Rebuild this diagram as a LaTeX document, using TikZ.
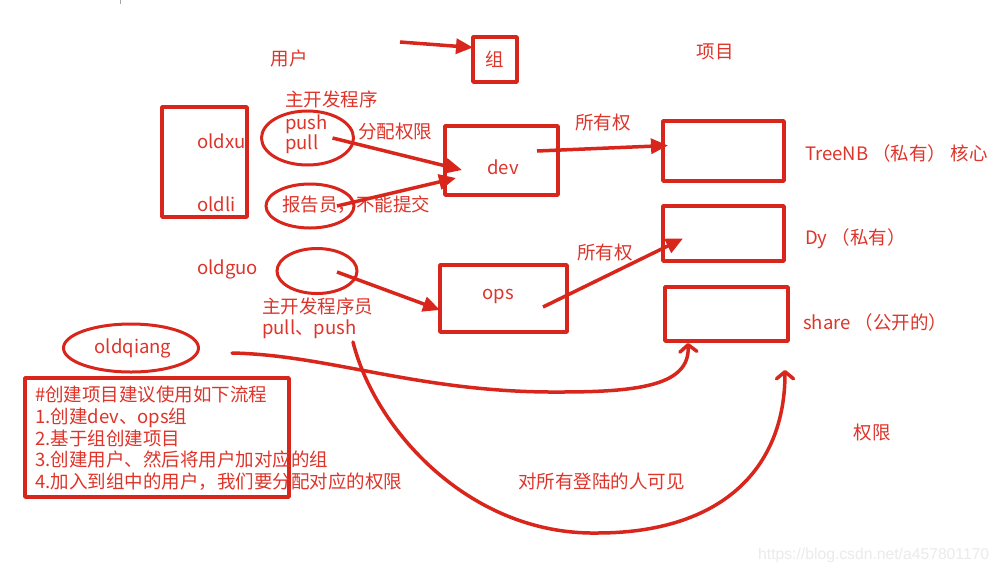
\documentclass[tikz,border=0pt]{standalone}
\usepackage{fontspec}
\setmainfont{Noto Sans CJK SC}
\newfontfamily\wmfont{Liberation Sans}
\usetikzlibrary{arrows.meta,shapes.geometric}
\definecolor{penred}{RGB}{216,38,28}
\definecolor{inkred}{RGB}{222,52,42}
\newcommand\diagfont{\fontsize{18.5}{22}\selectfont}
\begin{document}
\begin{tikzpicture}[x=1pt,y=-1pt,
    rbox/.style={draw=penred,line width=3.5pt,line join=round,inner sep=0pt,outer sep=0pt,text=inkred,font=\diagfont},
    ring/.style={ellipse,draw=penred,line width=3pt,inner sep=0pt,outer sep=0pt},
    txt/.style={text=inkred,inner sep=0pt,text height=15pt,text depth=1.5pt,font=\diagfont},
    arr/.style={draw=penred,line width=3.5pt,-{Triangle[length=17pt,width=15pt]}},
    curvearr/.style={draw=penred,line width=3.5pt,line cap=round,-{Straight Barb[length=7pt,width=17pt,line width=3.5pt,round]}}]
        \fill[white](0,0)rectangle(1001,574);
        \useasboundingbox(0,0)rectangle(1001,574);
        \draw[gray!70,line width=1pt](120,0)--(120,4);
        % top row
        \node[txt](uhead)at(289,59){用户};
        \node[txt](phead)at(715,52){项目};
        \node[rbox,minimum width=44pt,minimum height=45pt](grp)at(495,59.5){组};
        \coordinate(gstart)at(400,42);
        \draw[arr](gstart)--([yshift=12pt]grp.west);
        % users and dev
        \node[rbox,minimum width=85pt,minimum height=110pt](users)at(204.5,162){};
        \node[txt,anchor=west](xu)at(197,142){oldxu};
        \node[txt,anchor=west](li)at(197,205){oldli};
        \node[ring,minimum width=92pt,minimum height=54pt](pp)at(307.5,138){};
        \node[txt,anchor=west](devrole)at(285,100){主开发程序};
        \node[txt,anchor=west](push)at(285,123){push};
        \node[txt,anchor=west](pull)at(285,143){pull};
        \node[txt,anchor=west](assign)at(358,132){分配权限};
        \node[ring,minimum width=88pt,minimum height=44pt](rep)at(310,206){};
        \node[txt,anchor=west](replbl)at(282,205){报告员，不能提交};
        \node[rbox,minimum width=113pt,minimum height=69pt](dev)at(501.5,160.5){};
        \node[txt](devlbl)at(503,168){dev};
        \draw[arr]([xshift=25pt]pp.center)--([shift={(17pt,-9.5pt)}]dev.west);
        \draw[arr]([xshift=27pt]rep.center)--([shift={(11pt,-17.5pt)}]dev.west);
        % projects
        \node[rbox,minimum width=121pt,minimum height=60pt](tree)at(723.5,151){};
        \node[rbox,minimum width=121pt,minimum height=55pt](dy)at(723.5,233.5){};
        \node[rbox,minimum width=123pt,minimum height=54pt](share)at(726.5,314){};
        \node[txt,anchor=west](treelbl)at(805,154){TreeNB （私有） 核心};
        \node[txt,anchor=west](dylbl)at(805,238){Dy （私有）};
        \node[txt,anchor=west](sharelbl)at(803,323){share （公开的）};
        \node[txt](perm)at(872,433){权限};
        \node[txt](own1)at(603,123){所有权};
        \draw[arr]([shift={(35.5pt,9.5pt)}]dev.center)--([shift={(5pt,5.5pt)}]tree.west);
        % ops
        \node[txt,anchor=west](guolbl)at(197,268){oldguo};
        \node[ring,minimum width=80pt,minimum height=45pt](guo)at(317,271){};
        \node[rbox,minimum width=127pt,minimum height=67pt](ops)at(503.5,298.5){};
        \node[txt](opslbl)at(498,293){ops};
        \node[txt,anchor=west](opsrole)at(262,307){主开发程序员};
        \node[txt,anchor=west](opsperm)at(262,328){pull、push};
        \node[txt](own2)at(605,253){所有权};
        \draw[arr]([shift={(20pt,-1pt)}]guo.center)--([yshift=-11.5pt]ops.west);
        \draw[arr]([shift={(39.5pt,-8.5pt)}]ops.center)--([shift={(20pt,-5pt)}]dy.west);
        % public project
        \node[ring,minimum width=135pt,minimum height=48pt](qiang)at(131,348){};
        \node[txt](qianglbl)at(133,347){oldqiang};
        \coordinate(qstart)at(232,353);
        \draw[curvearr](qstart)..controls(330,355)and(420,393)..(560,392)
            ..controls(640,392)and(690,385)..([shift={(23pt,-2pt)}]share.south west);
        \coordinate(vstart)at(353,342);
        \draw[curvearr](vstart)..controls(375,430)and(470,535)..(597,533)
            ..controls(720,533)and(785,470)..([shift={(-3pt,-29pt)}]share.south east);
        \node[txt](visible)at(601.5,482){对所有登陆的人可见};
        % notes
        \node[rbox,minimum width=264pt,minimum height=119pt](notes)at(157,437.5){};
        \foreach \t [count=\i from 0] in {\#创建项目建议使用如下流程,1.创建dev、ops组,2.基于组创建项目,3.创建用户、然后将用户加对应的组,4.加入到组中的用户，我们要分配对应的权限}
            \node[txt,anchor=west](note\i)at(35,395+21.7*\i){\t};
        \node[anchor=west,inner sep=0pt,text=black!8,font=\wmfont\fontsize{15.7}{18}\selectfont](wm)at(758,555){https://blog.csdn.net/a457801170};
    \end{tikzpicture}
\end{document}
